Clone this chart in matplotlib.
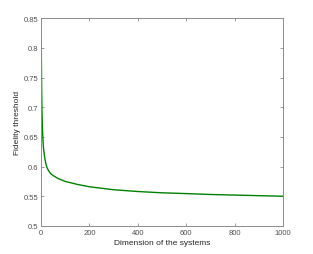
import matplotlib
matplotlib.use('Agg')
import matplotlib.pyplot as plt

# values
dims = [1, 2, 3, 4, 5, 6, 8, 10, 15, 20, 25, 30, 40, 50, 70, 100, 150,
        200, 250, 300, 400, 500, 600, 700, 800, 900, 1000]
fidelity = [0.811, 0.76, 0.72, 0.695, 0.678, 0.665, 0.645, 0.632, 0.616,
            0.605, 0.598, 0.594, 0.588, 0.585, 0.580, 0.575, 0.570,
            0.566, 0.5635, 0.561, 0.558, 0.5558, 0.5545, 0.553, 0.552,
            0.551, 0.550]

xticks = [0, 200, 400, 600, 800, 1000]
yticks = [0.5, 0.55, 0.6, 0.65, 0.7, 0.75, 0.8, 0.85]
ytick_labels = ['0.5', '0.55', '0.6', '0.65', '0.7', '0.75', '0.8', '0.85']

plt.rcParams['font.family'] = ['Liberation Sans', 'DejaVu Sans']

fig = plt.figure(figsize=(3.13, 2.55), dpi=100, facecolor='white')
ax = fig.add_axes([0.131, 0.110, 0.773, 0.815])

ax.plot(dims, fidelity, color='#008000', linewidth=1.0)

ax.set_xlim(0, 1000)
ax.set_ylim(0.5, 0.85)
ax.set_xticks(xticks)
ax.set_yticks(yticks)
ax.set_yticklabels(ytick_labels)

axis_gray = '#8c8c8c'
for s in ax.spines.values():
    s.set_color(axis_gray)
    s.set_linewidth(0.7)
ax.tick_params(direction='in', top=True, right=True, length=2, width=0.6,
               color=axis_gray, labelsize=5.5, labelcolor='#505050', pad=2)

ax.set_xlabel('Dimension of the systems', fontsize=6, color='#262626', labelpad=2)
ax.set_ylabel('Fidelity threshold', fontsize=6, color='#262626', labelpad=2)

fig.savefig('out.png', dpi=100)
